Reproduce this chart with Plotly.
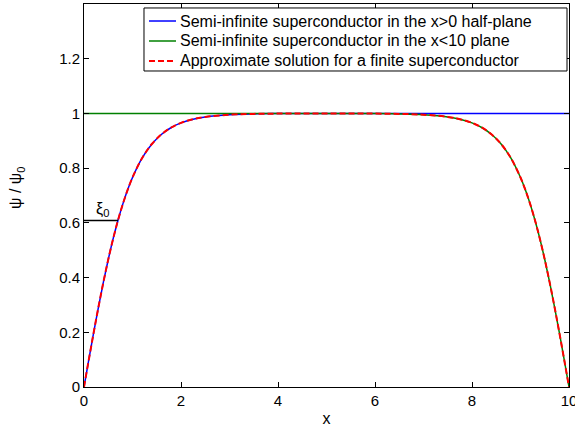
import plotly.graph_objects as go

# Sample positions along the superconductor (x in units of length)
x_pos = [0, 0.1, 0.2, 0.3, 0.4, 0.5, 0.6, 0.7, 0.8, 0.9, 1.0, 1.2, 1.4, 1.6, 1.8,
         2.0, 2.25, 2.5, 3.0, 3.5, 4.0, 4.5, 5.0,
         5.5, 6.0, 6.5, 7.0, 7.5, 7.75, 8.0, 8.2, 8.4, 8.6, 8.8, 9.0, 9.1, 9.2,
         9.3, 9.4, 9.5, 9.6, 9.7, 9.8, 9.9, 10.0]

# Order parameter, semi-infinite superconductor occupying x > 0
psi_left = [0, 0.1007, 0.1993, 0.2941, 0.3834, 0.4660, 0.5413, 0.6088, 0.6685, 0.7207,
            0.7657, 0.8373, 0.8883, 0.9240, 0.9486, 0.9654, 0.9790, 0.9873, 0.9953,
            0.9983, 0.9994, 0.9998, 0.9999,
            1.0, 1.0, 1.0, 1.0, 1.0, 1.0, 1.0, 1.0, 1.0, 1.0, 1.0, 1.0, 1.0, 1.0,
            1.0, 1.0, 1.0, 1.0, 1.0, 1.0, 1.0, 1.0]

# Order parameter, semi-infinite superconductor occupying x < 10
psi_right = [1.0, 1.0, 1.0, 1.0, 1.0, 1.0, 1.0, 1.0, 1.0, 1.0, 1.0, 1.0, 1.0, 1.0, 1.0,
             1.0, 1.0, 1.0, 1.0, 1.0, 1.0, 1.0, 0.9999,
             0.9998, 0.9994, 0.9983, 0.9953, 0.9873, 0.9790, 0.9654, 0.9486, 0.9240,
             0.8883, 0.8373, 0.7657, 0.7207, 0.6685, 0.6088, 0.5413, 0.4660, 0.3834,
             0.2941, 0.1993, 0.1007, 0]

# Approximate order parameter for the finite slab 0 < x < 10
psi_finite = [0, 0.1007, 0.1993, 0.2941, 0.3834, 0.4660, 0.5413, 0.6088, 0.6685, 0.7207,
              0.7657, 0.8373, 0.8883, 0.9240, 0.9486, 0.9654, 0.9790, 0.9873, 0.9953,
              0.9983, 0.9994, 0.9998, 0.9998,
              0.9998, 0.9994, 0.9983, 0.9953, 0.9873, 0.9790, 0.9654, 0.9486, 0.9240,
              0.8883, 0.8373, 0.7657, 0.7207, 0.6685, 0.6088, 0.5413, 0.4660, 0.3834,
              0.2941, 0.1993, 0.1007, 0]

# Coherence length marker
xi0_x = [0, 0.7]
xi0_y = [0.6088, 0.6088]

x_ticks = [0, 2, 4, 6, 8, 10]
y_ticks = [0, 0.2, 0.4, 0.6, 0.8, 1.0, 1.2]
y_tick_text = ["0", "0.2", "0.4", "0.6", "0.8", "1", "1.2"]

series_names = ["Semi-infinite superconductor in the x>0 half-plane",
                "Semi-infinite superconductor in the x<10 plane",
                "Approximate solution for a finite superconductor"]
series_colors = ["#0000ff", "#008000", "#ff0000"]
series_dash = ["solid", "solid", "6px,3px"]

FONT = "Liberation Sans, Arial, sans-serif"

fig = go.Figure()
for yv, name, col, dsh in zip([psi_left, psi_right, psi_finite], series_names, series_colors, series_dash):
    fig.add_trace(go.Scatter(
        x=x_pos, y=yv, mode="lines", name=name, showlegend=False,
        line=dict(color=col, width=2 if dsh != "solid" else 1.5, dash=dsh, shape="spline"),
    ))
fig.add_trace(go.Scatter(x=xi0_x, y=xi0_y, mode="lines", line=dict(color="black", width=1.5),
                         showlegend=False, cliponaxis=False))

fig.add_annotation(x=0.2, y=0.605, xref="x", yref="y", text="ξ<sub>0</sub>", showarrow=False,
                   xanchor="left", yanchor="bottom", font=dict(family=FONT, size=16, color="black"))

# Boxed legend in the upper right of the axes
leg_x0, leg_x1 = 0.1237, 0.9959
leg_y0, leg_y1 = 0.8251, 0.9896
row_y = [0.9556, 0.9034, 0.8512]
fig.add_shape(type="rect", xref="paper", yref="paper", x0=leg_x0, x1=leg_x1, y0=leg_y0, y1=leg_y1,
              line=dict(color="black", width=1), fillcolor="white", layer="above")
for ry, name, col, dsh in zip(row_y, series_names, series_colors, series_dash):
    fig.add_shape(type="line", xref="paper", yref="paper", x0=0.1340, x1=0.1897, y0=ry, y1=ry,
                  line=dict(color=col, width=2 if dsh != "solid" else 1.5, dash=dsh), layer="above")
    fig.add_annotation(x=0.1938, y=ry, xref="paper", yref="paper", text=name, showarrow=False,
                       xanchor="left", yanchor="middle",
                       font=dict(family=FONT, size=16, color="black"))

# Vertical axis label
fig.add_annotation(x=-0.138, y=0.52, xref="paper", yref="paper", text="ψ / ψ<sub>0</sub>",
                   showarrow=False, textangle=-90, xanchor="center", yanchor="middle",
                   font=dict(family=FONT, size=16, color="black"))

axis_common = dict(showline=True, linecolor="black", linewidth=1, mirror="ticks", ticks="inside",
                   ticklen=5, tickcolor="black", showgrid=False, zeroline=False,
                   ticklabeloverflow="allow", automargin=False,
                   tickfont=dict(family=FONT, size=15, color="black"))

fig.update_xaxes(range=[0, 10], tickvals=x_ticks, **axis_common,
                 title=dict(text="x", font=dict(family=FONT, size=16, color="black"), standoff=4))
fig.update_yaxes(range=[0, 1.4], tickvals=y_ticks, ticktext=y_tick_text, **axis_common)

fig.update_layout(
    width=575, height=430,
    margin=dict(l=84, r=6, t=4, b=43),
    paper_bgcolor="white", plot_bgcolor="white",
    font=dict(family=FONT, color="black"),
    showlegend=False,
)

fig.write_html("out.html")
